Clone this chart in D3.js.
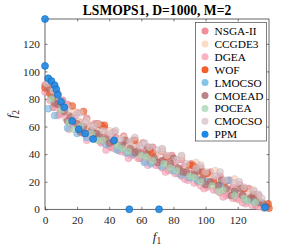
<!DOCTYPE html>
<html>
<head>
<meta charset="utf-8">
<script src="https://cdn.jsdelivr.net/npm/d3@7"></script>
<style>
  body { margin: 0; background: #fff; }
  svg { display: block; font-family: "Liberation Serif", "Times New Roman", serif; }
</style>
</head>
<body>
<div id="chart"></div>
<script>
// values (f1, f2)
const nsga2 = [[0,90],[2,86],[4,84],[6,79],[8,78],[10,74],[12,72],[15,68],[18,66],[19,62],[22,63],[25,59],[27,61],[30,56],[33,57],[36,52],[39,54],[42,49],[44,52],[48,46],[51,48],[54,43],[57,46],[60,41],[63,43],[66,38],[69,40],[72,35],[75,37],[78,32],[81,34],[84,29],[87,31],[90,26],[93,28],[96,23],[99,25],[102,20],[105,22],[108,17],[111,18],[114,14],[117,16],[120,11],[123,13],[126,9],[129,10],[132,6],[135,5],[138,2],
    [3,90],[7,84],[11,79],[14,76],[20,70],[26,66],[31,62],[37,59],[43,56],[49,53],[55,50],[61,48],[67,45],[73,42],[79,39],[85,36],[91,33],[97,30],[103,27],[109,24],[115,21],[121,18],[127,15],[133,10],
    [5,74],[9,69],[16,62],[23,57],[29,53],[35,49],[41,45],[46,43],[53,40],[59,37],[65,35],[71,32],[77,29],[83,26],[89,23],[95,20],[101,17],[107,14],[113,11],[119,8],[125,6],[131,3]];
const ccgde3 = [[1,87],[4,82],[9,76],[13,70],[16,66],[21,64],[24,58],[28,60],[31,54],[34,58],[37,51],[43,50],[46,47],[52,45],[55,47],[58,40],[64,42],[67,37],[70,39],[76,33],[79,36],[82,29],[88,30],[91,24],[97,26],[100,19],[103,23],[109,15],[112,19],[115,12],[121,14],[124,8],[127,12],[133,7],[136,3],
    [7,82],[18,71],[26,64],[40,57],[49,52],[61,47],[73,43],[85,38],[94,34],[106,28],[118,22],[130,14]];
const dgea = [[0,85],[3,79],[7,74],[10,70],[13,66],[17,61],[21,58],[24,55],[28,53],[32,51],[35,48],[40,46],[43,44],[47,42],[50,41],[54,39],[58,37],[62,35],[66,34],[69,32],[73,30],[77,28],[81,26],[85,24],[89,21],[93,19],[97,17],[101,16],[105,14],[109,12],[113,10],[117,8],[121,7],[125,4],[129,3],[133,2],[136,1],
    [8,68],[15,58],[26,50],[38,43],[52,37],[64,32],[75,27],[87,22],[99,15],[111,9],[123,5]];
const wof = [[0,88],[3,84],[17,75],[24,71],[33,62],[35,61],[37,61],[56,50],[65,43],[67,41],[76,38],[90,32],[92,32],[94,30],[98,27],[101,26],[105,20],[112,20],[124,15],[130,9],[139,4],[139.5,0.8]];
const lmocso = [[2,73],[6,68],[14,59],[20,55],[26,52],[32,52],[38,47],[45,43],[47,45],[51,41],[55,40],[62,34],[66,33],[73,31],[80,28],[85,25],[90,23],[95,21],[101,20],[109,18],[114,21],[118,12],[126,7],[130,6],[134,5],[137,1]];
const cmoead = [[2,88],[5,82],[8,76],[12,71],[16,67],[20,62],[24,60],[29,57],[34,54],[38,51],[43,49],[48,47],[53,44],[58,42],[63,40],[68,37],[73,35],[78,33],[83,30],[88,27],[93,25],[98,22],[103,20],[108,17],[113,15],[118,13],[123,10],[128,8],[133,5],
    [6,77],[14,64],[22,56],[32,55],[40,48],[50,50],[56,41],[64,45],[70,34],[80,37],[86,27],[95,28],[100,18],[110,21],[116,10],[122,15],[130,11],[136,4]];
const pocea = [[4,80],[10,72],[15,63],[22,60],[29,55],[36,50],[45,46],[52,42],[60,39],[67,35],[74,33],[82,28],[90,24],[97,20],[104,17],[111,14],[118,10],[124,8],[131,5],
    [18,58],[33,50],[48,44],[63,38],[78,30],[93,23],[108,13],[126,6]];
const cmocso = [[1,91],[5,86],[10,79],[14,74],[19,68],[25,63],[30,60],[36,57],[41,55],[47,51],[53,49],[59,46],[65,45],[70,43],[76,39],[82,36],[88,33],[94,30],[100,27],[106,24],[112,21],[118,19],[124,16],[130,13],[135,8],
    [8,84],[22,70],[33,62],[44,57],[56,52],[62,48],[73,44],[85,39],[97,32],[109,27],[121,20],[133,11]];
const ppm = [[0,138],[0,104],[2,95],[4,93],[6,90],[7,87],[8,83],[10,78],[12,74],[17,64],[21,58],[25,55],[30,51],[43,50],[52.5,0],[71,0],[137,1.5]];

const names = ['NSGA-II', 'CCGDE3', 'DGEA', 'WOF', 'LMOCSO', 'CMOEAD', 'POCEA', 'CMOCSO', 'PPM'];
const colors = ['#f28e9c', '#fcdcc6', '#fbb3c4', '#f5602a', '#86c4e8', '#bb8585', '#b9e0c2', '#e0d0d5', '#1e88e5'];
const xTicks = [0, 20, 40, 60, 80, 100, 120];
const yTicks = [0, 20, 40, 60, 80, 100, 120];

const series = [nsga2, ccgde3, dgea, wof, lmocso, cmoead, pocea, cmocso, ppm];

width = 299;
height = 249;

const margin = { top: 19, right: 30, bottom: 39.7, left: 45 };

var svg = d3.select('#chart')
    .append('svg')
    .attr('width', width)
    .attr('height', height)
    .attr('viewBox', [0, 0, width, height]);

const x = d3.scaleLinear()
    .domain([0, 139.5])
    .range([margin.left, width - margin.right]);

const y = d3.scaleLinear()
    .domain([0, 138])
    .range([height - margin.bottom, margin.top]);

// ticks (inward, on all four sides)
const axisColor = '#262626';
const gBottom = svg.append('g')
    .attr('transform', `translate(0,${y(0)})`)
    .call(d3.axisBottom(x).tickValues(xTicks).tickSize(-2.5).tickPadding(7));
const gLeft = svg.append('g')
    .attr('transform', `translate(${x(0)},0)`)
    .call(d3.axisLeft(y).tickValues(yTicks).tickSize(-2.5).tickPadding(5));
const gTop = svg.append('g')
    .attr('transform', `translate(0,${y(138)})`)
    .call(d3.axisTop(x).tickValues(xTicks).tickSize(-2.5).tickFormat(''));
const gRight = svg.append('g')
    .attr('transform', `translate(${x(139.5)},0)`)
    .call(d3.axisRight(y).tickValues(yTicks).tickSize(-2.5).tickFormat(''));

[gBottom, gLeft, gTop, gRight].forEach(g => {
    g.select('.domain').remove();
    g.selectAll('line').attr('stroke', axisColor).attr('stroke-width', 0.6);
    g.selectAll('text')
        .attr('fill', axisColor)
        .style('font-family', '"Liberation Serif", serif')
        .style('font-size', '11.3px');
});

svg.append('rect')
    .attr('x', x(0))
    .attr('y', y(138))
    .attr('width', x(139.5) - x(0))
    .attr('height', y(0) - y(138))
    .attr('fill', 'none')
    .attr('stroke', axisColor)
    .attr('stroke-width', 0.7);

// points -- slightly stronger fills in the plot than in the legend
const plotColors = ['#ec7d8c', '#f8d2bc', '#f7a5b8', '#f3561f', '#7cbde4', '#b07070', '#acd8b6', '#d9c4ca', '#1e88e5'];
series.forEach((pts, i) => {
    const last = i === series.length - 1;
    svg.append('g')
        .selectAll('circle')
        .data(pts)
        .join('circle')
        .attr('cx', d => x(d[0]))
        .attr('cy', d => y(d[1]))
        .attr('r', 3.5)
        .attr('fill', plotColors[i])
        .attr('fill-opacity', last ? 0.9 : 0.68)
        .attr('stroke', last ? '#1765b0' : d3.color(plotColors[i]).darker(0.5))
        .attr('stroke-opacity', last ? 1 : 0.55)
        .attr('stroke-width', 0.6);
});

// title
svg.append('text')
    .attr('x', (x(0) + x(139.5)) / 2)
    .attr('y', 15)
    .attr('text-anchor', 'middle')
    .style('font-size', '13.6px')
    .style('font-weight', 'bold')
    .attr('fill', '#000')
    .text('LSMOPS1, D=1000, M=2');

// axis labels
const xl = svg.append('text')
    .attr('x', (x(0) + x(139.5)) / 2)
    .attr('y', 241)
    .attr('text-anchor', 'middle')
    .attr('fill', axisColor)
    .style('font-size', '13px');
xl.append('tspan').style('font-style', 'italic').text('f');
xl.append('tspan').attr('dy', 3).style('font-size', '9.5px').text('1');

const yl = svg.append('text')
    .attr('transform', `translate(16,${(y(0) + y(138)) / 2}) rotate(-90)`)
    .attr('text-anchor', 'middle')
    .attr('fill', axisColor)
    .style('font-size', '13px');
yl.append('tspan').style('font-style', 'italic').text('f');
yl.append('tspan').attr('dy', 3).style('font-size', '9.5px').text('2');

// legend
const lg = svg.append('g');
lg.append('rect')
    .attr('x', 195.5)
    .attr('y', 22.5)
    .attr('width', 71)
    .attr('height', 118.5)
    .attr('fill', '#fff')
    .attr('stroke', axisColor)
    .attr('stroke-width', 0.6);

const rows = lg.selectAll('g.row')
    .data(names)
    .join('g')
    .attr('class', 'row')
    .attr('transform', (d, i) => `translate(0,${31 + i * 12.9})`);

rows.append('circle')
    .attr('cx', 205)
    .attr('cy', 0)
    .attr('r', 3.5)
    .attr('fill', (d, i) => colors[i]);

rows.append('text')
    .attr('x', 214.5)
    .attr('y', 4)
    .attr('fill', '#000')
    .style('font-size', '11.3px')
    .text(d => d);
</script>
</body>
</html>
